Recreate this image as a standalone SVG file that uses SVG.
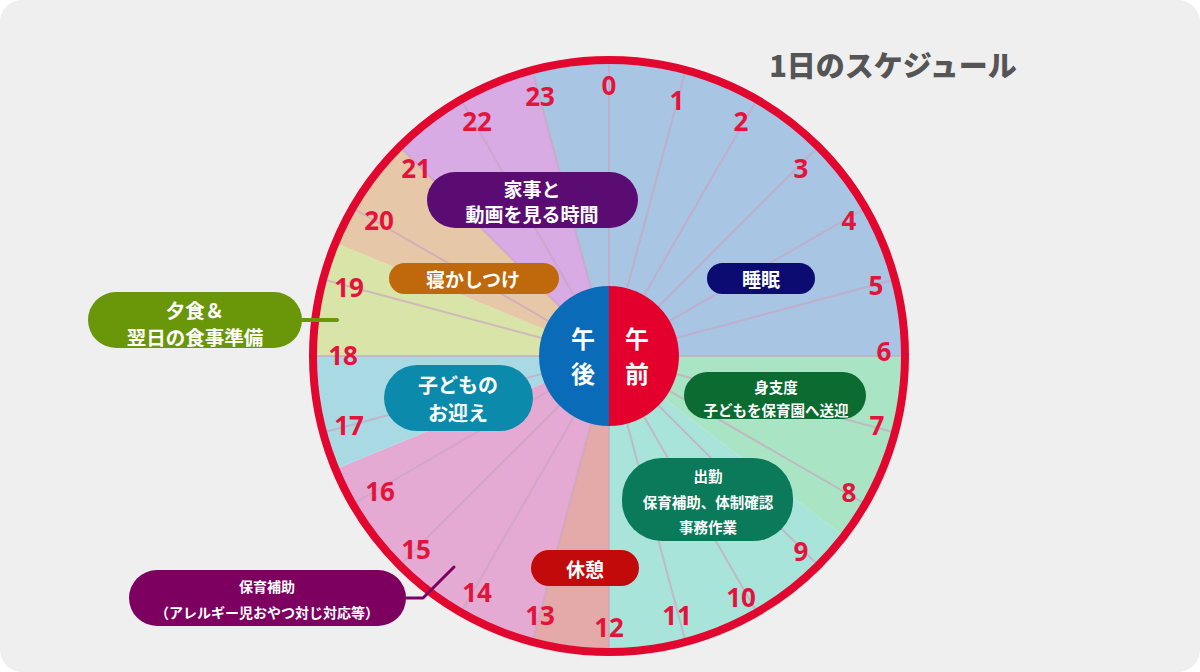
<svg xmlns="http://www.w3.org/2000/svg" width="1200" height="672" viewBox="0 0 1200 672">
<style>
.num{font-family:"Noto Sans","Noto Sans CJK JP",sans-serif;font-weight:700;font-size:26px;fill:#e2143c;text-anchor:middle;dominant-baseline:central}
.lbl{font-family:"Noto Sans CJK JP","Noto Sans",sans-serif;font-weight:700;fill:#ffffff;text-anchor:middle;dominant-baseline:central}
.hr{stroke:#c9a3bf;stroke-width:2;stroke-opacity:0.65}
</style>
<rect x="0" y="0" width="1200" height="672" fill="#ffffff"/>
<rect x="0" y="0" width="1200" height="672" rx="22" fill="#efefef"/>

<text x="893" y="64" font-family="'Noto Sans CJK JP','Noto Sans',sans-serif" font-weight="900" font-size="29" fill="#555555" text-anchor="middle" dominant-baseline="central">1日のスケジュール</text>

<g id="clock">
  <g id="sectors">
    <path d="M609,356 L532.4,70.1 A296,296 0 0 1 905,356 Z" fill="#a9c5e4"/>
    <path d="M609,356 L905,356 A296,296 0 0 1 843.8,536.2 Z" fill="#a9e4c4"/>
    <path d="M609,356 L843.8,536.2 A296,296 0 0 1 609,652 Z" fill="#a9e4da"/>
    <path d="M609,356 L609,652 A296,296 0 0 1 532.4,641.9 Z" fill="#e4a9a9"/>
    <path d="M609,356 L532.4,641.9 A296,296 0 0 1 335.5,469.3 Z" fill="#e5aad4"/>
    <path d="M609,356 L335.5,469.3 A296,296 0 0 1 313,356 Z" fill="#a9dae4"/>
    <path d="M609,356 L313,356 A296,296 0 0 1 335.5,242.7 Z" fill="#d9e4a9"/>
    <path d="M609,356 L335.5,242.7 A296,296 0 0 1 399.7,146.7 Z" fill="#e6c8a9"/>
    <path d="M609,356 L399.7,146.7 A296,296 0 0 1 532.4,70.1 Z" fill="#d8abe5"/>
  </g>
  <g id="hour-lines">
    <line class="hr" x1="609" y1="356" x2="609" y2="63" transform="rotate(0 609 356)"/>
    <line class="hr" x1="609" y1="356" x2="609" y2="63" transform="rotate(15 609 356)"/>
    <line class="hr" x1="609" y1="356" x2="609" y2="63" transform="rotate(30 609 356)"/>
    <line class="hr" x1="609" y1="356" x2="609" y2="63" transform="rotate(45 609 356)"/>
    <line class="hr" x1="609" y1="356" x2="609" y2="63" transform="rotate(60 609 356)"/>
    <line class="hr" x1="609" y1="356" x2="609" y2="63" transform="rotate(75 609 356)"/>
    <line class="hr" x1="609" y1="356" x2="609" y2="63" transform="rotate(90 609 356)"/>
    <line class="hr" x1="609" y1="356" x2="609" y2="63" transform="rotate(105 609 356)"/>
    <line class="hr" x1="609" y1="356" x2="609" y2="63" transform="rotate(120 609 356)"/>
    <line class="hr" x1="609" y1="356" x2="609" y2="63" transform="rotate(135 609 356)"/>
    <line class="hr" x1="609" y1="356" x2="609" y2="63" transform="rotate(150 609 356)"/>
    <line class="hr" x1="609" y1="356" x2="609" y2="63" transform="rotate(165 609 356)"/>
    <line class="hr" x1="609" y1="356" x2="609" y2="63" transform="rotate(180 609 356)"/>
    <line class="hr" x1="609" y1="356" x2="609" y2="63" transform="rotate(195 609 356)"/>
    <line class="hr" x1="609" y1="356" x2="609" y2="63" transform="rotate(210 609 356)"/>
    <line class="hr" x1="609" y1="356" x2="609" y2="63" transform="rotate(225 609 356)"/>
    <line class="hr" x1="609" y1="356" x2="609" y2="63" transform="rotate(240 609 356)"/>
    <line class="hr" x1="609" y1="356" x2="609" y2="63" transform="rotate(255 609 356)"/>
    <line class="hr" x1="609" y1="356" x2="609" y2="63" transform="rotate(270 609 356)"/>
    <line class="hr" x1="609" y1="356" x2="609" y2="63" transform="rotate(285 609 356)"/>
    <line class="hr" x1="609" y1="356" x2="609" y2="63" transform="rotate(300 609 356)"/>
    <line class="hr" x1="609" y1="356" x2="609" y2="63" transform="rotate(315 609 356)"/>
    <line class="hr" x1="609" y1="356" x2="609" y2="63" transform="rotate(330 609 356)"/>
    <line class="hr" x1="609" y1="356" x2="609" y2="63" transform="rotate(345 609 356)"/>
  </g>
  <circle id="ring" cx="609" cy="356" r="296" fill="none" stroke="#e2072f" stroke-width="8"/>
  <g id="hour-numbers">
    <text class="num" x="609" y="85">0</text>
    <text class="num" x="677" y="100">1</text>
    <text class="num" x="741" y="121">2</text>
    <text class="num" x="801" y="168">3</text>
    <text class="num" x="849" y="220">4</text>
    <text class="num" x="876" y="285">5</text>
    <text class="num" x="884" y="351">6</text>
    <text class="num" x="877" y="425">7</text>
    <text class="num" x="849" y="492">8</text>
    <text class="num" x="801" y="551">9</text>
    <text class="num" x="741" y="597">10</text>
    <text class="num" x="677" y="615">11</text>
    <text class="num" x="609" y="627">12</text>
    <text class="num" x="540" y="615">13</text>
    <text class="num" x="477" y="592">14</text>
    <text class="num" x="416" y="549">15</text>
    <text class="num" x="380" y="491">16</text>
    <text class="num" x="349" y="425">17</text>
    <text class="num" x="343" y="355">18</text>
    <text class="num" x="349" y="287">19</text>
    <text class="num" x="379" y="220">20</text>
    <text class="num" x="416" y="168">21</text>
    <text class="num" x="477" y="121">22</text>
    <text class="num" x="540" y="96">23</text>
  </g>
</g>

<g id="center-ampm">
  <path d="M609,286 A70,70 0 0 0 609,426 Z" fill="#0a6cb8"/>
  <path d="M609,286 A70,70 0 0 1 609,426 Z" fill="#e4002d"/>
  <text class="lbl" x="583" y="337.5" font-size="24">午</text>
  <text class="lbl" x="583" y="372.5" font-size="24">後</text>
  <text class="lbl" x="637" y="337.5" font-size="24">午</text>
  <text class="lbl" x="637" y="372.5" font-size="24">前</text>
</g>

<g id="node-kaji">
  <rect x="427" y="172" width="211" height="56" rx="28" fill="#5b0c72"/>
  <text class="lbl" x="532" y="188" font-size="19">家事と</text>
  <text class="lbl" x="532" y="213" font-size="19">動画を見る時間</text>
</g>
<g id="node-nekashitsuke">
  <rect x="389" y="263" width="170" height="31" rx="15.5" fill="#c0690c"/>
  <text class="lbl" x="473" y="278.5" font-size="19">寝かしつけ</text>
</g>
<g id="node-suimin">
  <rect x="707" y="263" width="108" height="31" rx="15.5" fill="#0b0b72"/>
  <text class="lbl" x="761" y="278.5" font-size="19">睡眠</text>
</g>
<g id="node-mijitaku">
  <rect x="684" y="372" width="182" height="47" rx="23.5" fill="#0b6b30"/>
  <text class="lbl" x="776" y="386" font-size="14.5">身支度</text>
  <text class="lbl" x="776" y="409" font-size="14.5">子どもを保育園へ送迎</text>
</g>
<g id="node-shukkin">
  <rect x="622" y="458" width="171" height="83" rx="40" fill="#0b7a5a"/>
  <text class="lbl" x="708" y="475" font-size="14.5">出勤</text>
  <text class="lbl" x="708" y="501" font-size="14.5">保育補助、体制確認</text>
  <text class="lbl" x="708" y="526" font-size="14.5">事務作業</text>
</g>
<g id="node-kyukei">
  <rect x="531" y="550" width="108" height="36" rx="18" fill="#c20a0a"/>
  <text class="lbl" x="585" y="568" font-size="19">休憩</text>
</g>
<g id="node-omukae">
  <rect x="384" y="365" width="149" height="66" rx="33" fill="#0b8aab"/>
  <text class="lbl" x="458" y="384" font-size="20">子どもの</text>
  <text class="lbl" x="458" y="412" font-size="20">お迎え</text>
</g>
<g id="node-yushoku">
  <rect x="88" y="292" width="214" height="56" rx="28" fill="#6a960a"/>
  <text class="lbl" x="195" y="309" font-size="19.5">夕食＆</text>
  <text class="lbl" x="195" y="336" font-size="19.5">翌日の食事準備</text>
</g>
<g id="node-hoiku">
  <rect x="129" y="570" width="277" height="56" rx="28" fill="#7d0060"/>
  <text class="lbl" x="267" y="586" font-size="14">保育補助</text>
  <text class="lbl" x="267" y="612" font-size="14">（アレルギー児おやつ対じ対応等）</text>
</g>

<g id="connectors" fill="none" stroke-linecap="round" stroke-linejoin="round">
  <line x1="300" y1="320" x2="337" y2="320" stroke="#6a960a" stroke-width="4"/>
  <polyline points="404,598 423,598 454,567" stroke="#7d0060" stroke-width="3"/>
</g>
</svg>
